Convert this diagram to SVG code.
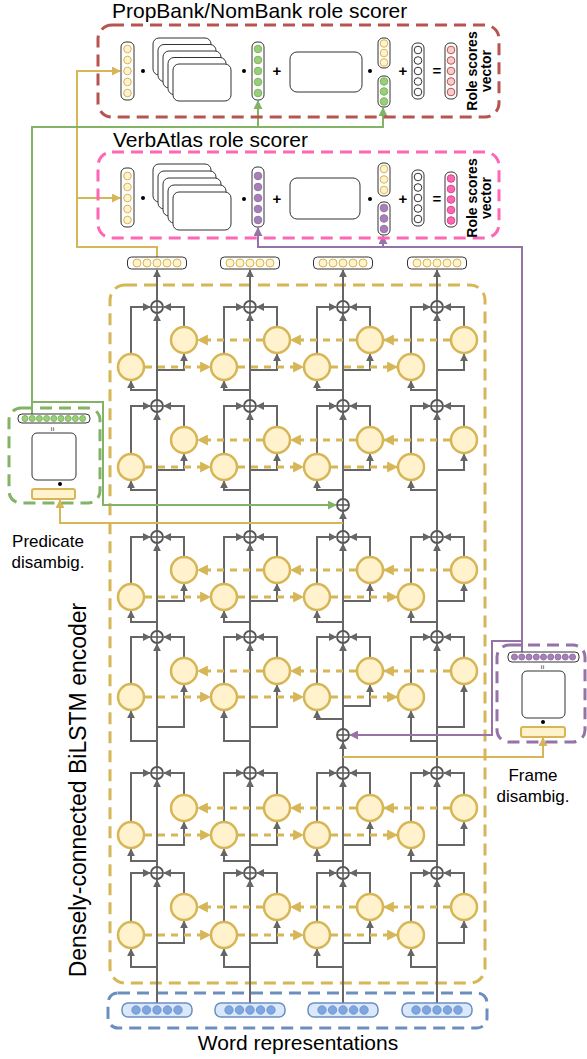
<svg xmlns="http://www.w3.org/2000/svg" width="587" height="1059" viewBox="0 0 587 1059">
<style>
.t{font-family:"Liberation Sans",Arial,Helvetica,sans-serif;fill:#000}
.op{font-family:"Liberation Sans",Arial,sans-serif;font-size:15px;font-weight:bold;text-anchor:middle;fill:#000}
.g{fill:none;stroke:#666;stroke-width:2;marker-end:url(#ag)}
.d{fill:none;stroke:#d6b656;stroke-width:3;stroke-dasharray:7 6;marker-end:url(#ay)}
.cell{fill:#fff2cc;stroke:#d6b656;stroke-width:2.5}
.vec{fill:#fff;stroke:#333;stroke-width:1}
.blk{fill:#fff;stroke:#333;stroke-width:1}
.cy{fill:#fff2cc;stroke:#d6b656;stroke-width:1}
.cg{fill:#97d077;stroke:#82b366;stroke-width:1}
.cp{fill:#a680b8;stroke:#9673a6;stroke-width:1}
.cw{fill:#fff;stroke:#333;stroke-width:1}
.cr{fill:#f8cecc;stroke:#b85450;stroke-width:1}
.ck{fill:#ff66b3;stroke:#d9488f;stroke-width:1}
.cb{fill:#7ea6e0;stroke:#6c8ebf;stroke-width:0.8}
.box{fill:none;stroke-width:3;stroke-dasharray:12 7}
.yl{fill:none;stroke:#d6b656;stroke-width:2;marker-end:url(#ayl)}
.gl{fill:none;stroke:#82b366;stroke-width:2;marker-end:url(#agr)}
.pl{fill:none;stroke:#9673a6;stroke-width:2;marker-end:url(#apu)}
.dot{fill:#000}
</style>
<defs>
<marker id="ag" viewBox="0 0 10 10" refX="9" refY="5" markerWidth="8" markerHeight="8" markerUnits="userSpaceOnUse" orient="auto"><path d="M0,0L10,5L0,10z" fill="#666"/></marker>
<marker id="ay" viewBox="0 0 10 10" refX="9" refY="5" markerWidth="11" markerHeight="11" markerUnits="userSpaceOnUse" orient="auto"><path d="M0,0L10,5L0,10z" fill="#d6b656"/></marker>
<marker id="ayl" viewBox="0 0 10 10" refX="9" refY="5" markerWidth="9" markerHeight="9" markerUnits="userSpaceOnUse" orient="auto"><path d="M0,0L10,5L0,10z" fill="#d6b656"/></marker>
<marker id="agr" viewBox="0 0 10 10" refX="9" refY="5" markerWidth="9" markerHeight="9" markerUnits="userSpaceOnUse" orient="auto"><path d="M0,0L10,5L0,10z" fill="#82b366"/></marker>
<marker id="apu" viewBox="0 0 10 10" refX="9" refY="5" markerWidth="9" markerHeight="9" markerUnits="userSpaceOnUse" orient="auto"><path d="M0,0L10,5L0,10z" fill="#9673a6"/></marker>
<g id="pl"><circle r="6" fill="#fff" stroke="#555" stroke-width="1.8"/><path d="M-6,0H6M0,-6V6" stroke="#555" stroke-width="1.5"/></g>
</defs>

<!-- containers -->
<g id="encoder-box">
<rect class="box" stroke="#d6b656" x="110" y="285" width="375" height="698" rx="15"/>
<text class="t" font-size="23" text-anchor="middle" transform="translate(86,790) rotate(-90)">Densely-connected BiLSTM encoder</text>
</g>
<g id="word-representations">
<rect class="box" stroke="#6c8ebf" stroke-dasharray="9 6" x="108" y="993" width="379" height="35" rx="10"/>
<text class="t" font-size="21" text-anchor="middle" x="298" y="1050">Word representations</text>
</g>

<g id="connectors">
<!-- gray LSTM wiring -->
<path class="g" d="M131,353V307H150"/><path class="g" d="M184,326V307H164"/><path class="g" d="M157,370H184V354"/><path class="g" d="M157,390H131V381"/>
<path class="g" d="M224,353V307H243"/><path class="g" d="M277,326V307H257"/><path class="g" d="M250,370H277V354"/><path class="g" d="M250,390H224V381"/>
<path class="g" d="M317,353V307H336"/><path class="g" d="M370,326V307H350"/><path class="g" d="M343,370H370V354"/><path class="g" d="M343,390H317V381"/>
<path class="g" d="M411,353V307H430"/><path class="g" d="M464,326V307H444"/><path class="g" d="M437,370H464V354"/><path class="g" d="M437,390H411V381"/>

<path class="g" d="M131,453V406H150"/><path class="g" d="M184,426V406H164"/><path class="g" d="M157,470H184V454"/><path class="g" d="M157,490H131V481"/>
<path class="g" d="M224,453V406H243"/><path class="g" d="M277,426V406H257"/><path class="g" d="M250,470H277V454"/><path class="g" d="M250,490H224V481"/>
<path class="g" d="M317,453V406H336"/><path class="g" d="M370,426V406H350"/><path class="g" d="M343,470H370V454"/><path class="g" d="M343,490H317V481"/>
<path class="g" d="M411,453V406H430"/><path class="g" d="M464,426V406H444"/><path class="g" d="M437,470H464V454"/><path class="g" d="M437,490H411V481"/>

<path class="g" d="M131,583V537H150"/><path class="g" d="M184,556V537H164"/><path class="g" d="M157,601H184V584"/><path class="g" d="M157,622H131V611"/>
<path class="g" d="M224,583V537H243"/><path class="g" d="M277,556V537H257"/><path class="g" d="M250,601H277V584"/><path class="g" d="M250,622H224V611"/>
<path class="g" d="M317,583V537H336"/><path class="g" d="M370,556V537H350"/><path class="g" d="M343,601H370V584"/><path class="g" d="M343,622H317V611"/>
<path class="g" d="M411,583V537H430"/><path class="g" d="M464,556V537H444"/><path class="g" d="M437,601H464V584"/><path class="g" d="M437,622H411V611"/>

<path class="g" d="M131,683V637H150"/><path class="g" d="M184,657V637H164"/><path class="g" d="M157,727H184V685"/><path class="g" d="M157,741H131V711"/>
<path class="g" d="M224,683V637H243"/><path class="g" d="M277,657V637H257"/><path class="g" d="M250,727H277V685"/><path class="g" d="M250,741H224V711"/>
<path class="g" d="M317,683V637H336"/><path class="g" d="M370,657V637H350"/><path class="g" d="M343,706H370V685"/><path class="g" d="M343,719H317V711"/>
<path class="g" d="M411,683V637H430"/><path class="g" d="M464,657V637H444"/><path class="g" d="M437,727H464V685"/><path class="g" d="M437,741H411V711"/>

<path class="g" d="M131,821V773H150"/><path class="g" d="M184,794V773H164"/><path class="g" d="M157,845H184V822"/><path class="g" d="M157,861H131V849"/>
<path class="g" d="M224,821V773H243"/><path class="g" d="M277,794V773H257"/><path class="g" d="M250,845H277V822"/><path class="g" d="M250,861H224V849"/>
<path class="g" d="M317,821V773H336"/><path class="g" d="M370,794V773H350"/><path class="g" d="M343,845H370V822"/><path class="g" d="M343,861H317V849"/>
<path class="g" d="M411,821V773H430"/><path class="g" d="M464,794V773H444"/><path class="g" d="M437,845H464V822"/><path class="g" d="M437,861H411V849"/>

<path class="g" d="M131,921V873H150"/><path class="g" d="M184,893V873H164"/><path class="g" d="M157,943H184V921"/><path class="g" d="M157,967H131V949"/>
<path class="g" d="M224,921V873H243"/><path class="g" d="M277,893V873H257"/><path class="g" d="M250,943H277V921"/><path class="g" d="M250,967H224V949"/>
<path class="g" d="M317,921V873H336"/><path class="g" d="M370,893V873H350"/><path class="g" d="M343,943H370V921"/><path class="g" d="M343,967H317V949"/>
<path class="g" d="M411,921V873H430"/><path class="g" d="M464,893V873H444"/><path class="g" d="M437,943H464V921"/><path class="g" d="M437,967H411V949"/>

<!-- main verticals -->
<path class="g" d="M157,1003V880"/><path class="g" d="M157,867V780"/><path class="g" d="M157,767V644"/><path class="g" d="M157,631V544"/><path class="g" d="M157,531V413"/><path class="g" d="M157,400V314"/><path class="g" d="M157,301V270"/>
<path class="g" d="M250,1003V880"/><path class="g" d="M250,867V780"/><path class="g" d="M250,767V644"/><path class="g" d="M250,631V544"/><path class="g" d="M250,531V413"/><path class="g" d="M250,400V314"/><path class="g" d="M250,301V270"/>
<path class="g" d="M343,1003V880"/><path class="g" d="M343,867V780"/><path class="g" d="M343,767V742"/><path class="g" d="M343,729V644"/><path class="g" d="M343,631V544"/><path class="g" d="M343,531V512"/><path class="g" d="M343,499V413"/><path class="g" d="M343,400V314"/><path class="g" d="M343,301V270"/>
<path class="g" d="M437,1003V880"/><path class="g" d="M437,867V780"/><path class="g" d="M437,767V644"/><path class="g" d="M437,631V544"/><path class="g" d="M437,531V413"/><path class="g" d="M437,400V314"/><path class="g" d="M437,301V270"/>

<!-- recurrent dashed arrows -->
<path class="d" d="M145,367H210"/><path class="d" d="M238,367H303"/><path class="d" d="M331,367H397"/>
<path class="d" d="M263,340H198"/><path class="d" d="M356,340H291"/><path class="d" d="M450,340H384"/>
<path class="d" d="M145,467H210"/><path class="d" d="M238,467H303"/><path class="d" d="M331,467H397"/>
<path class="d" d="M263,440H198"/><path class="d" d="M356,440H291"/><path class="d" d="M450,440H384"/>
<path class="d" d="M145,597H210"/><path class="d" d="M238,597H303"/><path class="d" d="M331,597H397"/>
<path class="d" d="M263,570H198"/><path class="d" d="M356,570H291"/><path class="d" d="M450,570H384"/>
<path class="d" d="M145,697H210"/><path class="d" d="M238,697H303"/><path class="d" d="M331,697H397"/>
<path class="d" d="M263,671H198"/><path class="d" d="M356,671H291"/><path class="d" d="M450,671H384"/>
<path class="d" d="M145,835H210"/><path class="d" d="M238,835H303"/><path class="d" d="M331,835H397"/>
<path class="d" d="M263,808H198"/><path class="d" d="M356,808H291"/><path class="d" d="M450,808H384"/>
<path class="d" d="M145,935H210"/><path class="d" d="M238,935H303"/><path class="d" d="M331,935H397"/>
<path class="d" d="M263,907H198"/><path class="d" d="M356,907H291"/><path class="d" d="M450,907H384"/>

<!-- colored connectors -->
<path class="yl" d="M157,257V247H77V71H120"/>
<path class="yl" d="M77,198H120"/>
<path class="yl" d="M343,523H60V500"/>
<path class="yl" d="M343,757H543V738"/>
<path class="gl" d="M32,414V127H383V108"/>
<path class="gl" d="M258,127V101"/>
<path class="gl" d="M32,402H103V505H336"/>
<path class="pl" d="M522,652V247H258V228"/>
<path class="pl" d="M383,247V236"/>
<path class="pl" d="M522,641H492V735H350"/>
</g>

<g id="lstm-cells">
<circle class="cell" cx="131" cy="367" r="13"/><circle class="cell" cx="224" cy="367" r="13"/><circle class="cell" cx="317" cy="367" r="13"/><circle class="cell" cx="411" cy="367" r="13"/>
<circle class="cell" cx="184" cy="340" r="13"/><circle class="cell" cx="277" cy="340" r="13"/><circle class="cell" cx="370" cy="340" r="13"/><circle class="cell" cx="464" cy="340" r="13"/>
<circle class="cell" cx="131" cy="467" r="13"/><circle class="cell" cx="224" cy="467" r="13"/><circle class="cell" cx="317" cy="467" r="13"/><circle class="cell" cx="411" cy="467" r="13"/>
<circle class="cell" cx="184" cy="440" r="13"/><circle class="cell" cx="277" cy="440" r="13"/><circle class="cell" cx="370" cy="440" r="13"/><circle class="cell" cx="464" cy="440" r="13"/>
<circle class="cell" cx="131" cy="597" r="13"/><circle class="cell" cx="224" cy="597" r="13"/><circle class="cell" cx="317" cy="597" r="13"/><circle class="cell" cx="411" cy="597" r="13"/>
<circle class="cell" cx="184" cy="570" r="13"/><circle class="cell" cx="277" cy="570" r="13"/><circle class="cell" cx="370" cy="570" r="13"/><circle class="cell" cx="464" cy="570" r="13"/>
<circle class="cell" cx="131" cy="697" r="13"/><circle class="cell" cx="224" cy="697" r="13"/><circle class="cell" cx="317" cy="697" r="13"/><circle class="cell" cx="411" cy="697" r="13"/>
<circle class="cell" cx="184" cy="671" r="13"/><circle class="cell" cx="277" cy="671" r="13"/><circle class="cell" cx="370" cy="671" r="13"/><circle class="cell" cx="464" cy="671" r="13"/>
<circle class="cell" cx="131" cy="835" r="13"/><circle class="cell" cx="224" cy="835" r="13"/><circle class="cell" cx="317" cy="835" r="13"/><circle class="cell" cx="411" cy="835" r="13"/>
<circle class="cell" cx="184" cy="808" r="13"/><circle class="cell" cx="277" cy="808" r="13"/><circle class="cell" cx="370" cy="808" r="13"/><circle class="cell" cx="464" cy="808" r="13"/>
<circle class="cell" cx="131" cy="935" r="13"/><circle class="cell" cx="224" cy="935" r="13"/><circle class="cell" cx="317" cy="935" r="13"/><circle class="cell" cx="411" cy="935" r="13"/>
<circle class="cell" cx="184" cy="907" r="13"/><circle class="cell" cx="277" cy="907" r="13"/><circle class="cell" cx="370" cy="907" r="13"/><circle class="cell" cx="464" cy="907" r="13"/>
</g>

<g id="sum-nodes">
<use href="#pl" x="157" y="307"/><use href="#pl" x="250" y="307"/><use href="#pl" x="343" y="307"/><use href="#pl" x="437" y="307"/>
<use href="#pl" x="157" y="406"/><use href="#pl" x="250" y="406"/><use href="#pl" x="343" y="406"/><use href="#pl" x="437" y="406"/>
<use href="#pl" x="343" y="505"/>
<use href="#pl" x="157" y="537"/><use href="#pl" x="250" y="537"/><use href="#pl" x="343" y="537"/><use href="#pl" x="437" y="537"/>
<use href="#pl" x="157" y="637"/><use href="#pl" x="250" y="637"/><use href="#pl" x="343" y="637"/><use href="#pl" x="437" y="637"/>
<use href="#pl" x="343" y="735"/>
<use href="#pl" x="157" y="773"/><use href="#pl" x="250" y="773"/><use href="#pl" x="343" y="773"/><use href="#pl" x="437" y="773"/>
<use href="#pl" x="157" y="873"/><use href="#pl" x="250" y="873"/><use href="#pl" x="343" y="873"/><use href="#pl" x="437" y="873"/>
</g>

<g id="encoder-outputs">
<rect class="vec" x="127.5" y="257" width="59" height="12" rx="4"/>
<circle class="cy" cx="137" cy="263" r="4"/><circle class="cy" cx="147" cy="263" r="4"/><circle class="cy" cx="157" cy="263" r="4"/><circle class="cy" cx="167" cy="263" r="4"/><circle class="cy" cx="177" cy="263" r="4"/>
<rect class="vec" x="220.5" y="257" width="59" height="12" rx="4"/>
<circle class="cy" cx="230" cy="263" r="4"/><circle class="cy" cx="240" cy="263" r="4"/><circle class="cy" cx="250" cy="263" r="4"/><circle class="cy" cx="260" cy="263" r="4"/><circle class="cy" cx="270" cy="263" r="4"/>
<rect class="vec" x="313.5" y="257" width="59" height="12" rx="4"/>
<circle class="cy" cx="323" cy="263" r="4"/><circle class="cy" cx="333" cy="263" r="4"/><circle class="cy" cx="343" cy="263" r="4"/><circle class="cy" cx="353" cy="263" r="4"/><circle class="cy" cx="363" cy="263" r="4"/>
<rect class="vec" x="407.5" y="257" width="59" height="12" rx="4"/>
<circle class="cy" cx="417" cy="263" r="4"/><circle class="cy" cx="427" cy="263" r="4"/><circle class="cy" cx="437" cy="263" r="4"/><circle class="cy" cx="447" cy="263" r="4"/><circle class="cy" cx="457" cy="263" r="4"/>
</g>

<g id="word-vectors">
<rect x="122" y="1003" width="70" height="14" rx="6" fill="#dae8fc" stroke="#6c8ebf" stroke-width="1.5"/>
<circle class="cb" cx="136" cy="1010" r="4.2"/><circle class="cb" cx="146.5" cy="1010" r="4.2"/><circle class="cb" cx="157" cy="1010" r="4.2"/><circle class="cb" cx="167.5" cy="1010" r="4.2"/><circle class="cb" cx="178" cy="1010" r="4.2"/>
<rect x="215" y="1003" width="70" height="14" rx="6" fill="#dae8fc" stroke="#6c8ebf" stroke-width="1.5"/>
<circle class="cb" cx="229" cy="1010" r="4.2"/><circle class="cb" cx="239.5" cy="1010" r="4.2"/><circle class="cb" cx="250" cy="1010" r="4.2"/><circle class="cb" cx="260.5" cy="1010" r="4.2"/><circle class="cb" cx="271" cy="1010" r="4.2"/>
<rect x="308" y="1003" width="70" height="14" rx="6" fill="#dae8fc" stroke="#6c8ebf" stroke-width="1.5"/>
<circle class="cb" cx="322" cy="1010" r="4.2"/><circle class="cb" cx="332.5" cy="1010" r="4.2"/><circle class="cb" cx="343" cy="1010" r="4.2"/><circle class="cb" cx="353.5" cy="1010" r="4.2"/><circle class="cb" cx="364" cy="1010" r="4.2"/>
<rect x="402" y="1003" width="70" height="14" rx="6" fill="#dae8fc" stroke="#6c8ebf" stroke-width="1.5"/>
<circle class="cb" cx="416" cy="1010" r="4.2"/><circle class="cb" cx="426.5" cy="1010" r="4.2"/><circle class="cb" cx="437" cy="1010" r="4.2"/><circle class="cb" cx="447.5" cy="1010" r="4.2"/><circle class="cb" cx="458" cy="1010" r="4.2"/>
</g>

<g id="propbank-scorer">
<rect class="box" stroke="#b85450" x="98" y="25" width="401" height="92" rx="14"/>
<text class="t" font-size="21" x="112" y="18">PropBank/NomBank role scorer</text>
<rect class="vec" x="121" y="42" width="13" height="58" rx="5"/>
<circle class="cy" cx="127.5" cy="49" r="3.8"/><circle class="cy" cx="127.5" cy="60" r="3.8"/><circle class="cy" cx="127.5" cy="71" r="3.8"/><circle class="cy" cx="127.5" cy="82" r="3.8"/><circle class="cy" cx="127.5" cy="93" r="3.8"/>
<circle class="dot" cx="143" cy="71" r="2"/>
<rect class="blk" x="153" y="38" width="58" height="37" rx="6"/>
<rect class="blk" x="158" y="44.5" width="58" height="37" rx="6"/>
<rect class="blk" x="163" y="51" width="58" height="37" rx="6"/>
<rect class="blk" x="168" y="57.5" width="58" height="37" rx="6"/>
<rect class="blk" x="173" y="64" width="58" height="37" rx="6"/>
<circle class="dot" cx="244" cy="71" r="2"/>
<rect class="vec" x="252" y="42" width="12" height="58" rx="5"/>
<circle class="cg" cx="258" cy="49" r="3.8"/><circle class="cg" cx="258" cy="60" r="3.8"/><circle class="cg" cx="258" cy="71" r="3.8"/><circle class="cg" cx="258" cy="82" r="3.8"/><circle class="cg" cx="258" cy="93" r="3.8"/>
<text class="op" x="277" y="76">+</text>
<rect class="blk" x="290" y="52" width="72" height="40" rx="7"/>
<circle class="dot" cx="370" cy="71" r="2"/>
<rect class="vec" x="378" y="38" width="12" height="30" rx="5"/>
<circle class="cy" cx="384" cy="43.5" r="3.8"/><circle class="cy" cx="384" cy="53" r="3.8"/><circle class="cy" cx="384" cy="62.5" r="3.8"/>
<rect class="vec" x="378" y="76" width="12" height="31" rx="5"/>
<circle class="cg" cx="384" cy="81.5" r="3.8"/><circle class="cg" cx="384" cy="91.5" r="3.8"/><circle class="cg" cx="384" cy="101.5" r="3.8"/>
<text class="op" x="403" y="76">+</text>
<rect class="vec" x="412" y="43" width="12" height="56" rx="5"/>
<circle class="cw" cx="418" cy="50" r="3.8"/><circle class="cw" cx="418" cy="60.5" r="3.8"/><circle class="cw" cx="418" cy="71" r="3.8"/><circle class="cw" cx="418" cy="81.5" r="3.8"/><circle class="cw" cx="418" cy="92" r="3.8"/>
<text class="op" x="437" y="76">=</text>
<rect class="vec" x="445" y="43" width="12" height="56" rx="5"/>
<circle class="cr" cx="451" cy="50" r="3.8"/><circle class="cr" cx="451" cy="60.5" r="3.8"/><circle class="cr" cx="451" cy="71" r="3.8"/><circle class="cr" cx="451" cy="81.5" r="3.8"/><circle class="cr" cx="451" cy="92" r="3.8"/>
<text class="t" font-size="14" font-weight="bold" text-anchor="middle" transform="translate(477,71) rotate(-90)"><tspan x="0" y="0">Role scores</tspan><tspan x="0" y="14">vector</tspan></text>
</g>

<g id="verbatlas-scorer">
<rect class="box" stroke="#ff66b3" x="98" y="152" width="401" height="86" rx="14"/>
<text class="t" font-size="21" x="113" y="147">VerbAtlas role scorer</text>
<rect class="vec" x="121" y="168" width="13" height="59" rx="5"/>
<circle class="cy" cx="127.5" cy="176" r="3.8"/><circle class="cy" cx="127.5" cy="187" r="3.8"/><circle class="cy" cx="127.5" cy="198" r="3.8"/><circle class="cy" cx="127.5" cy="209" r="3.8"/><circle class="cy" cx="127.5" cy="220" r="3.8"/>
<circle class="dot" cx="143" cy="198" r="2"/>
<rect class="blk" x="153" y="164" width="58" height="38" rx="6"/>
<rect class="blk" x="158" y="171" width="58" height="38" rx="6"/>
<rect class="blk" x="163" y="178" width="58" height="38" rx="6"/>
<rect class="blk" x="168" y="185" width="58" height="38" rx="6"/>
<rect class="blk" x="173" y="192" width="58" height="38" rx="6"/>
<circle class="dot" cx="244" cy="199" r="2"/>
<rect class="vec" x="252" y="167" width="12" height="60" rx="5"/>
<circle class="cp" cx="258" cy="176" r="3.8"/><circle class="cp" cx="258" cy="187" r="3.8"/><circle class="cp" cx="258" cy="198" r="3.8"/><circle class="cp" cx="258" cy="209" r="3.8"/><circle class="cp" cx="258" cy="220" r="3.8"/>
<text class="op" x="277" y="204">+</text>
<rect class="blk" x="290" y="178" width="70" height="41" rx="7"/>
<circle class="dot" cx="370" cy="199" r="2"/>
<rect class="vec" x="378" y="163" width="12" height="33" rx="5"/>
<circle class="cy" cx="384" cy="169" r="3.8"/><circle class="cy" cx="384" cy="179.5" r="3.8"/><circle class="cy" cx="384" cy="190" r="3.8"/>
<rect class="vec" x="378" y="202" width="12" height="33" rx="5"/>
<circle class="cp" cx="384" cy="208" r="3.8"/><circle class="cp" cx="384" cy="218.5" r="3.8"/><circle class="cp" cx="384" cy="229" r="3.8"/>
<text class="op" x="403" y="204">+</text>
<rect class="vec" x="412" y="170" width="12" height="56" rx="5"/>
<circle class="cw" cx="418" cy="177" r="3.8"/><circle class="cw" cx="418" cy="187.5" r="3.8"/><circle class="cw" cx="418" cy="198" r="3.8"/><circle class="cw" cx="418" cy="208.5" r="3.8"/><circle class="cw" cx="418" cy="219" r="3.8"/>
<text class="op" x="437" y="204">=</text>
<rect class="vec" x="445" y="172" width="12" height="55" rx="5"/>
<circle class="ck" cx="451" cy="178.5" r="3.8"/><circle class="ck" cx="451" cy="189" r="3.8"/><circle class="ck" cx="451" cy="199.5" r="3.8"/><circle class="ck" cx="451" cy="210" r="3.8"/><circle class="ck" cx="451" cy="220.5" r="3.8"/>
<text class="t" font-size="14" font-weight="bold" text-anchor="middle" transform="translate(477,198) rotate(-90)"><tspan x="0" y="0">Role scores</tspan><tspan x="0" y="14">vector</tspan></text>
</g>

<g id="predicate-disambig">
<rect class="box" stroke="#82b366" x="9" y="408" width="91" height="95" rx="12"/>
<rect class="vec" x="18" y="414" width="72" height="9" rx="4"/>
<circle class="cg" cx="25" cy="418.5" r="3"/><circle class="cg" cx="32.2" cy="418.5" r="3"/><circle class="cg" cx="39.4" cy="418.5" r="3"/><circle class="cg" cx="46.6" cy="418.5" r="3"/><circle class="cg" cx="53.8" cy="418.5" r="3"/><circle class="cg" cx="61" cy="418.5" r="3"/><circle class="cg" cx="68.2" cy="418.5" r="3"/><circle class="cg" cx="75.4" cy="418.5" r="3"/><circle class="cg" cx="82.6" cy="418.5" r="3"/>
<text class="t" font-size="8" text-anchor="middle" transform="translate(53,429) rotate(90)" x="0" y="3">=</text>
<rect class="blk" x="32" y="433" width="44" height="47" rx="5"/>
<circle class="dot" cx="60" cy="484" r="2"/>
<rect x="32" y="489" width="43" height="10" rx="2" fill="#fff2cc" stroke="#d6b656" stroke-width="2"/>
<text class="t" font-size="17" text-anchor="middle"><tspan x="48" y="547">Predicate</tspan><tspan x="48" y="568">disambig.</tspan></text>
</g>

<g id="frame-disambig">
<rect class="box" stroke="#9673a6" x="497" y="645" width="88" height="97" rx="12"/>
<rect class="vec" x="508" y="652" width="71" height="10" rx="4"/>
<circle class="cp" cx="514.5" cy="657" r="3"/><circle class="cp" cx="521.75" cy="657" r="3"/><circle class="cp" cx="529" cy="657" r="3"/><circle class="cp" cx="536.25" cy="657" r="3"/><circle class="cp" cx="543.5" cy="657" r="3"/><circle class="cp" cx="550.75" cy="657" r="3"/><circle class="cp" cx="558" cy="657" r="3"/><circle class="cp" cx="565.25" cy="657" r="3"/><circle class="cp" cx="572.5" cy="657" r="3"/>
<text class="t" font-size="8" text-anchor="middle" transform="translate(543,667) rotate(90)" x="0" y="3">=</text>
<rect class="blk" x="522" y="671" width="43" height="47" rx="5"/>
<circle class="dot" cx="543" cy="722" r="2"/>
<rect x="521" y="727" width="44" height="10" rx="2" fill="#fff2cc" stroke="#d6b656" stroke-width="2"/>
<text class="t" font-size="17" text-anchor="middle"><tspan x="533" y="781">Frame</tspan><tspan x="533" y="802">disambig.</tspan></text>
</g>
</svg>
